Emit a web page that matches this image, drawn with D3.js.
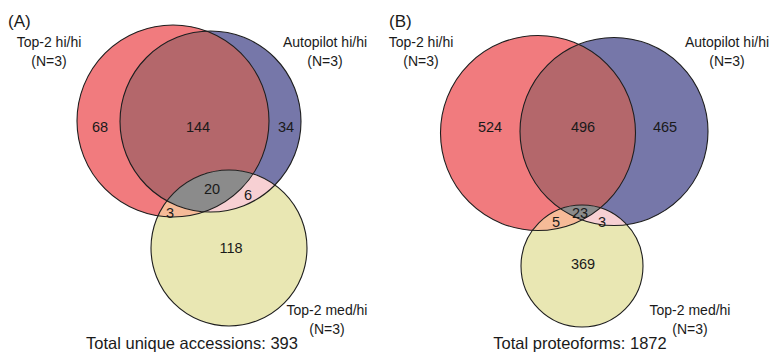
<!DOCTYPE html>
<head>
  <meta charset="utf-8">
  <script src="https://d3js.org/d3.v7.min.js"></script>
  <style>
    body { margin:0; background:white; }
    svg { display:block; }
    text { font-family: "Liberation Sans", Arial, Helvetica, sans-serif; fill:#1a1a1a; }
  </style>
</head>
<body>
  <script>
    // set names and counts
    var setNames = ["Top-2 hi/hi", "Autopilot hi/hi", "Top-2 med/hi"];
    var setN = ["(N=3)", "(N=3)", "(N=3)"];
    var panelTags = ["(A)", "(B)"];
    // region order: onlyRed, onlyBlue, onlyYellow, redBlue, redYellow, blueYellow, all
    var countsA = [68, 34, 118, 144, 3, 6, 20];
    var countsB = [524, 465, 369, 496, 5, 3, 23];
    var totalsText = ["Total unique accessions: 393", "Total proteoforms: 1872"];

    var width = 773, height = 354;
    var colors = {
      red: "#f17b7e", blue: "#7677a9", yellow: "#e9e7b3",
      rb: "#b4676b", ry: "#f6bb98", by: "#f7d0d3", all: "#8b8b8b"
    };

    // circle layout (pixels)
    var panels = [
      {
        counts: countsA, total: totalsText[0], tag: panelTags[0],
        circles: [{cx:173, cy:121, r:96}, {cx:210.5, cy:121.5, r:90.5}, {cx:229, cy:248, r:78}],
        numPos: [[100,127],[286,127],[231,248],[198,127],[170,213],[248,195],[212,189]],
        tagPos: [8,27], totalPos: [192,349],
        namePos: [[49,47],[325,47],[327,315]]
      },
      {
        counts: countsB, total: totalsText[1], tag: panelTags[1],
        circles: [{cx:538, cy:133, r:97.5}, {cx:614, cy:131.5, r:94}, {cx:582, cy:266, r:61}],
        numPos: [[490,127],[665,127],[583,264],[583,127],[556,222],[602,222],[580,213]],
        tagPos: [389,27], totalPos: [580,349],
        namePos: [[421,47],[727,47],[690,315]]
      }
    ];

    var svg = d3.select("body").append("svg")
        .attr("width", width).attr("height", height);
    var defs = svg.append("defs");

    panels.forEach(function(p, pi) {
      var g = svg.append("g");
      var c = p.circles;
      c.forEach(function(d, i) {
        defs.append("clipPath").attr("id", "clip" + pi + "_" + i)
          .append("circle").attr("cx", d.cx).attr("cy", d.cy).attr("r", d.r);
      });
      function circ(sel, d, fill) {
        return sel.append("circle").attr("cx", d.cx).attr("cy", d.cy).attr("r", d.r).attr("fill", fill);
      }
      circ(g, c[0], colors.red);
      circ(g, c[1], colors.blue);
      circ(g, c[2], colors.yellow);
      circ(g, c[1], colors.rb).attr("clip-path", "url(#clip" + pi + "_0)");
      circ(g, c[2], colors.ry).attr("clip-path", "url(#clip" + pi + "_0)");
      circ(g, c[2], colors.by).attr("clip-path", "url(#clip" + pi + "_1)");
      circ(g.append("g").attr("clip-path", "url(#clip" + pi + "_1)"), c[2], colors.all)
        .attr("clip-path", "url(#clip" + pi + "_0)");

      g.selectAll("circle.outline").data(c).enter().append("circle")
        .attr("class", "outline")
        .attr("cx", function(d) { return d.cx; })
        .attr("cy", function(d) { return d.cy; })
        .attr("r", function(d) { return d.r; })
        .attr("fill", "none").attr("stroke", "#1e1e1e").attr("stroke-width", 1.1);

      g.selectAll("text.num").data(p.counts).enter().append("text")
        .attr("class", "num")
        .attr("x", function(d, i) { return p.numPos[i][0]; })
        .attr("y", function(d, i) { return p.numPos[i][1]; })
        .attr("text-anchor", "middle").attr("dy", "0.36em")
        .style("font-size", "14.5px")
        .text(function(d) { return d; });

      setNames.forEach(function(name, i) {
        var t = g.append("text")
          .attr("x", p.namePos[i][0]).attr("y", p.namePos[i][1])
          .attr("text-anchor", "middle").style("font-size", "14px");
        t.append("tspan").attr("x", p.namePos[i][0]).text(name);
        t.append("tspan").attr("x", p.namePos[i][0]).attr("dy", 19).text(setN[i]);
      });

      g.append("text").attr("x", p.tagPos[0]).attr("y", p.tagPos[1])
        .style("font-size", "17px").text(p.tag);

      g.append("text").attr("x", p.totalPos[0]).attr("y", p.totalPos[1])
        .attr("text-anchor", "middle").style("font-size", "16.5px").text(p.total);
    });
  </script>
</body>
